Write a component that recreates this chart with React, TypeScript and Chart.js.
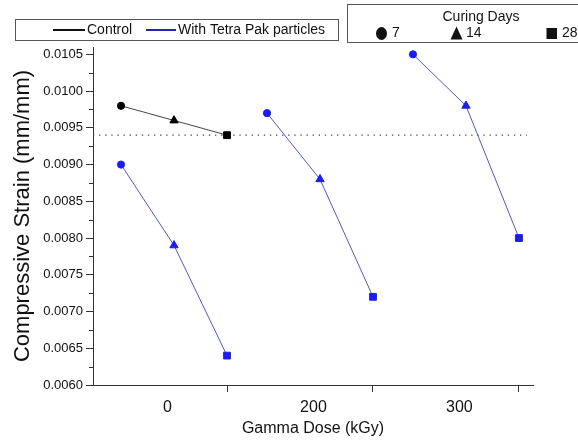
import React, { useEffect, useRef } from 'react';
import { Chart, registerables } from 'chart.js';

Chart.register(...registerables);

// ---- data ----
const DOSES = ['0', '200', '300'];
const CURING_DAYS = ['7', '14', '28'];
const CONTROL_STRAIN = [0.0098, 0.0096, 0.0094];
const TETRA_STRAIN_0 = [0.009, 0.0079, 0.0064];
const TETRA_STRAIN_200 = [0.0097, 0.0088, 0.0072];
const TETRA_STRAIN_300 = [0.0105, 0.0098, 0.008];
const REFERENCE_STRAIN = 0.0094;
const Y_MIN = 0.006;
const Y_MAX = 0.0106;
const Y_STEP = 0.0005;

// ---- layout (positions along the dose axis) ----
const DAY_OFFSET = [0, 0.363, 0.726];
const LABEL_OFFSET = 0.318;
const X_MIN = -0.192;
const X_MAX = 2.822;
const REF_END = 2.78;
const POINT_STYLES = ['circle', 'triangle', 'rect'];
const POINT_RADII = [3.6, 4.8, 4.8];
const FONT = '"Liberation Sans", Arial, sans-serif';
const BLUE = '#1c1cf2';
const BLUE_LINE = '#5555c8';

const legendPlugin = {
  id: 'customLegend',
  afterDraw(chart: any) {
    const ctx = chart.ctx;
    ctx.save();
    // Box 1: series legend
    ctx.strokeStyle = '#555';
    ctx.lineWidth = 1;
    ctx.strokeRect(15.5, 19.5, 323, 21);
    ctx.font = `14px ${FONT}`;
    ctx.textBaseline = 'middle';
    ctx.textAlign = 'left';
    ctx.lineWidth = 2;
    ctx.strokeStyle = '#111';
    ctx.beginPath();
    ctx.moveTo(53, 30);
    ctx.lineTo(85, 30);
    ctx.stroke();
    ctx.fillStyle = '#111';
    ctx.fillText('Control', 87, 30.5);
    ctx.strokeStyle = '#2222c0';
    ctx.beginPath();
    ctx.moveTo(146, 30);
    ctx.lineTo(176, 30);
    ctx.stroke();
    ctx.fillText('With Tetra Pak particles', 178, 30.5);

    // Box 2: curing days
    ctx.lineWidth = 1;
    ctx.strokeStyle = '#555';
    ctx.strokeRect(347.5, 4.5, 240, 38);
    ctx.textAlign = 'center';
    ctx.fillText('Curing Days', 481, 17.5);
    ctx.textAlign = 'left';
    const cy = 33.5;
    // circle
    ctx.beginPath();
    ctx.ellipse(381.5, cy, 5.5, 6.5, 0, 0, Math.PI * 2);
    ctx.fill();
    ctx.fillText(CURING_DAYS[0], 392, cy);
    // triangle
    ctx.beginPath();
    ctx.moveTo(456.5, cy - 7);
    ctx.lineTo(462.5, cy + 6);
    ctx.lineTo(450.5, cy + 6);
    ctx.closePath();
    ctx.fill();
    ctx.fillText(CURING_DAYS[1], 466, cy);
    // square
    ctx.fillRect(546.5, cy - 5.5, 10.5, 11);
    ctx.fillText(CURING_DAYS[2], 562, cy);
    ctx.restore();
  },
};

const minorTickPlugin = {
  id: 'minorTicks',
  afterDraw(chart: any) {
    const ctx = chart.ctx;
    const y = chart.scales.y;
    const left = chart.chartArea.left;
    ctx.save();
    ctx.strokeStyle = '#333';
    ctx.lineWidth = 1;
    for (let v = Y_MIN + Y_STEP / 2; v < Y_MAX; v += Y_STEP) {
      const py = Math.round(y.getPixelForValue(v)) + 0.5;
      ctx.beginPath();
      ctx.moveTo(left - 4, py);
      ctx.lineTo(left, py);
      ctx.stroke();
    }
    ctx.restore();
  },
};

export default function App() {
  const ref = useRef<HTMLCanvasElement>(null);

  useEffect(() => {
    if (!ref.current) return;
    const tetra = [TETRA_STRAIN_0, TETRA_STRAIN_200, TETRA_STRAIN_300];
    const markerStyle = {
      pointStyle: POINT_STYLES,
      pointRadius: POINT_RADII,
      pointBorderWidth: 1,
    };
    const datasets: any[] = [
      {
        label: 'Control',
        data: CONTROL_STRAIN.map((y, d) => ({ x: DAY_OFFSET[d], y })),
        borderColor: '#444',
        borderWidth: 1,
        backgroundColor: '#000',
        pointBackgroundColor: '#000',
        pointBorderColor: '#000',
        ...markerStyle,
      },
      ...tetra.map((vals, g) => ({
        label: `With Tetra Pak particles ${DOSES[g]}`,
        data: vals.map((y, d) => ({ x: g + DAY_OFFSET[d], y })),
        borderColor: BLUE_LINE,
        borderWidth: 1,
        backgroundColor: BLUE,
        pointBackgroundColor: BLUE,
        pointBorderColor: BLUE,
        ...markerStyle,
      })),
      {
        label: 'Reference',
        data: [
          { x: X_MIN, y: REFERENCE_STRAIN },
          { x: REF_END, y: REFERENCE_STRAIN },
        ],
        borderColor: '#444',
        borderWidth: 1.3,
        borderDash: [1.3, 4.8],
        pointRadius: 0,
      },
    ];

    const chart = new Chart(ref.current, {
      type: 'line',
      data: { datasets },
      plugins: [legendPlugin, minorTickPlugin],
      options: {
        animation: false,
        responsive: false,
        maintainAspectRatio: false,
        layout: { padding: { left: 0, right: 45, top: 47, bottom: 0 } },
        plugins: {
          legend: { display: false },
          tooltip: { enabled: false },
        },
        scales: {
          x: {
            type: 'linear',
            min: X_MIN,
            max: X_MAX,
            afterFit: (s: any) => {
              s.height = 55;
            },
            afterBuildTicks: (s: any) => {
              const t: any[] = [];
              DOSES.forEach((_, g) => {
                t.push({ value: g + LABEL_OFFSET });
                t.push({ value: g + DAY_OFFSET[2] });
              });
              s.ticks = t;
            },
            ticks: {
              autoSkip: false,
              maxRotation: 0,
              padding: 6,
              color: '#111',
              font: { family: FONT, size: 16 },
              callback: (value: any) => {
                const v = Number(value);
                for (let g = 0; g < DOSES.length; g++) {
                  if (Math.abs(v - (g + LABEL_OFFSET)) < 1e-6) return DOSES[g];
                }
                return '';
              },
            },
            grid: {
              drawOnChartArea: false,
              drawTicks: true,
              tickLength: 7,
              tickWidth: 1,
              tickColor: (c: any) => {
                const v = c.tick ? c.tick.value : 0;
                return DOSES.some((_, g) => Math.abs(v - (g + DAY_OFFSET[2])) < 1e-6)
                  ? '#333'
                  : 'rgba(0,0,0,0)';
              },
            },
            border: { display: true, color: '#333', width: 1 },
            title: {
              display: true,
              text: 'Gamma Dose (kGy)',
              color: '#111',
              font: { family: FONT, size: 16 },
              padding: { top: 0, bottom: 2 },
            },
          },
          y: {
            type: 'linear',
            min: Y_MIN,
            max: Y_MAX,
            afterFit: (s: any) => {
              s.width = 93;
            },
            afterBuildTicks: (s: any) => {
              const t: any[] = [];
              for (let i = 0; Y_MIN + i * Y_STEP <= 0.0105 + 1e-9; i++) {
                t.push({ value: Y_MIN + i * Y_STEP });
              }
              s.ticks = t;
            },
            ticks: {
              padding: 3,
              color: '#111',
              font: { family: FONT, size: 13 },
              callback: (value: any) => Number(value).toFixed(4),
            },
            grid: {
              drawOnChartArea: false,
              drawTicks: true,
              tickLength: 7,
              tickColor: '#333',
            },
            border: { display: true, color: '#333', width: 1 },
            title: {
              display: true,
              text: 'Compressive Strain (mm/mm)',
              color: '#111',
              font: { family: FONT, size: 22 },
              padding: { top: 10, bottom: 0 },
            },
          },
        },
      },
    });
    return () => chart.destroy();
  }, []);

  return (
    <div style={{ position: 'fixed', left: 0, top: 0, width: 578, height: 440, background: '#fff' }}>
      <canvas ref={ref} width={578} height={440} style={{ width: 578, height: 440 }} />
    </div>
  );
}
